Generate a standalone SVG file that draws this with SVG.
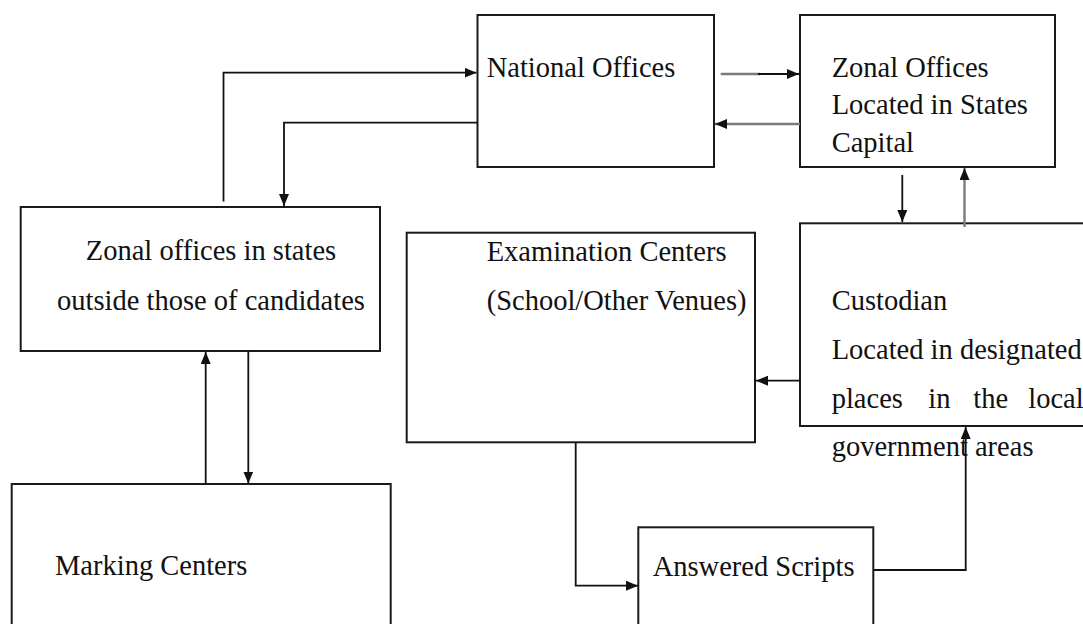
<svg xmlns="http://www.w3.org/2000/svg" width="1083" height="624" viewBox="0 0 1083 624">
<style>
.box{fill:#fff;stroke:#1a1a1a;stroke-width:2}
.t{font-family:"Liberation Serif","Times New Roman",serif;font-size:28.5px;fill:#111}
.c{fill:none;stroke:#111;stroke-width:1.8}
.g{fill:none;stroke:#7a7a7a;stroke-width:2.4}
</style>
<defs>
<marker id="ah" markerUnits="userSpaceOnUse" markerWidth="12" markerHeight="10" refX="12" refY="5" orient="auto"><path d="M0,0 L12,5 L0,10 z" fill="#111"/></marker>
<marker id="ahg" markerUnits="userSpaceOnUse" markerWidth="12" markerHeight="10" refX="12" refY="5" orient="auto"><path d="M0,0 L12,5 L0,10 z" fill="#111"/></marker>
</defs>
<rect width="1083" height="624" fill="#fff"/>
<g id="national-offices">
<rect class="box" x="477.5" y="15" width="236.5" height="152"/>
<text class="t" x="486.7" y="76.7">National Offices</text>
</g>
<g id="zonal-offices-capital">
<rect class="box" x="800" y="15" width="255" height="152"/>
<text class="t" x="831.7" y="76.7">Zonal Offices</text>
<text class="t" x="831.7" y="114.3">Located in States</text>
<text class="t" x="831.7" y="151.7">Capital</text>
</g>
<g id="zonal-offices-outside">
<rect class="box" x="20.7" y="207" width="359.3" height="144"/>
<text class="t" x="211" y="260" text-anchor="middle">Zonal offices in states</text>
<text class="t" x="211" y="310" text-anchor="middle">outside those of candidates</text>
</g>
<g id="examination-centers">
<rect class="box" x="406.7" y="232.7" width="348.3" height="209.6"/>
<text class="t" x="486.7" y="260.7">Examination Centers</text>
<text class="t" x="486.7" y="310.3">(School/Other Venues)</text>
</g>
<g id="custodian">
<rect class="box" x="800" y="223.3" width="300" height="202.7"/>
<text class="t" x="831.7" y="310">Custodian</text>
<text class="t" x="831.7" y="359">Located in designated</text>
<text class="t" y="408.3"><tspan x="831.7">places</tspan><tspan x="928.3">in</tspan><tspan x="973.3">the</tspan><tspan x="1028.3">local</tspan></text>
<text class="t" x="831.7" y="455.7">government areas</text>
</g>
<g id="marking-centers">
<rect class="box" x="11.7" y="484" width="379" height="160"/>
<text class="t" x="55" y="575">Marking Centers</text>
</g>
<g id="answered-scripts">
<rect class="box" x="638.3" y="527.3" width="235" height="120"/>
<text class="t" x="652.7" y="576">Answered Scripts</text>
</g>
<g id="connectors">
<path class="c" d="M223.5,201.5 V72.7 H476.5" marker-end="url(#ah)"/>
<path class="c" d="M477.5,122.7 H284 V206" marker-end="url(#ah)"/>
<path class="g" d="M720.7,74 H760"/>
<path class="c" d="M758,74 H799" marker-end="url(#ah)"/>
<path class="g" d="M800,124 H715" marker-end="url(#ahg)"/>
<path class="c" d="M902.3,175 V222" marker-end="url(#ah)"/>
<path class="g" d="M964.5,227 V168" marker-end="url(#ahg)"/>
<path class="c" d="M800,380.7 H756" marker-end="url(#ah)"/>
<path class="c" d="M575.7,442.3 V585.7 H638" marker-end="url(#ah)"/>
<path class="c" d="M873.3,570 H965.7 V427" marker-end="url(#ah)"/>
<path class="c" d="M205.7,484 V352" marker-end="url(#ah)"/>
<path class="c" d="M248.3,351 V483.5" marker-end="url(#ah)"/>
</g>
</svg>
